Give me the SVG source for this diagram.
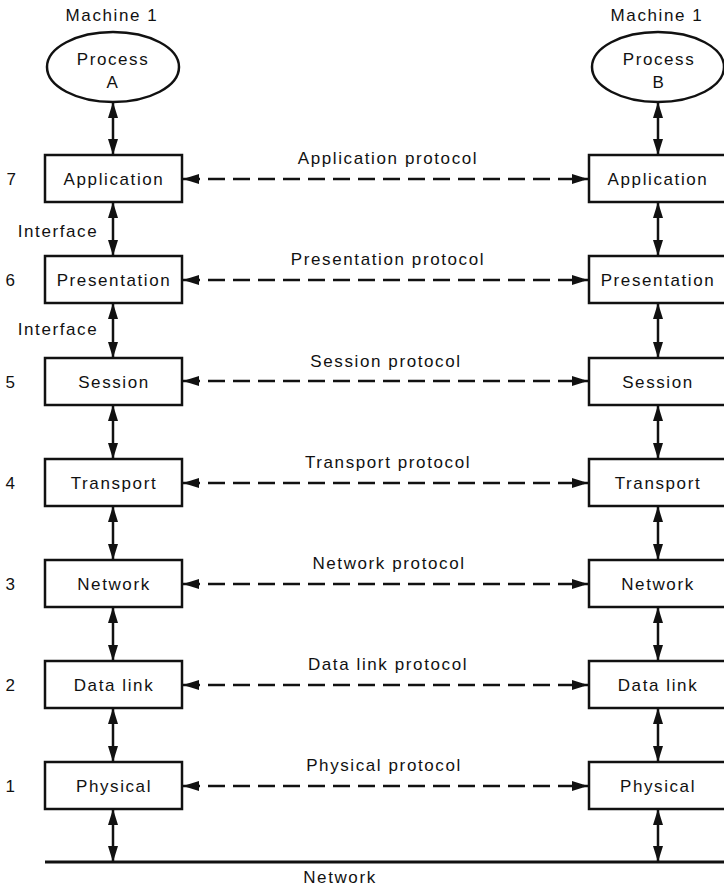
<svg xmlns="http://www.w3.org/2000/svg" width="724" height="892" viewBox="0 0 724 892">
<style>
text{font-family:"Liberation Sans",Arial,sans-serif;font-size:17px;letter-spacing:1.6px;fill:#111;text-anchor:middle}
.box{fill:#fff;stroke:#111;stroke-width:2.5}
.v{stroke:#111;stroke-width:2.5;fill:none;marker-start:url(#ah);marker-end:url(#ah)}
.h{stroke:#111;stroke-width:2.5;fill:none;stroke-dasharray:17 8;marker-start:url(#ah);marker-end:url(#ah)}
</style>
<defs>
<marker id="ah" viewBox="0 0 16 10" refX="16" refY="5" markerWidth="16" markerHeight="10" markerUnits="userSpaceOnUse" orient="auto-start-reverse">
<path d="M0,0 L16,5 L0,10 Z" fill="#111"/>
</marker>
</defs>
<rect width="724" height="892" fill="#fff"/>
<text x="112" y="21">Machine 1</text>
<text x="657" y="21">Machine 1</text>
<g id="processA"><ellipse cx="113" cy="67" rx="66" ry="35" class="box"/><text x="113" y="65">Process</text><text x="113" y="88">A</text></g>
<g id="processB"><ellipse cx="658" cy="67" rx="66" ry="35" class="box"/><text x="659" y="65">Process</text><text x="659" y="88">B</text></g>
<g id="layers-left">
<g id="app-l"><rect x="45" y="155" width="137" height="47" class="box"/><text x="114" y="185">Application</text></g>
<g id="pres-l"><rect x="45" y="256" width="137" height="47" class="box"/><text x="114" y="286">Presentation</text></g>
<g id="sess-l"><rect x="45" y="358" width="137" height="47" class="box"/><text x="114" y="388">Session</text></g>
<g id="trans-l"><rect x="45" y="459" width="137" height="47" class="box"/><text x="114" y="489">Transport</text></g>
<g id="net-l"><rect x="45" y="560" width="137" height="47" class="box"/><text x="114" y="590">Network</text></g>
<g id="dl-l"><rect x="45" y="661" width="137" height="47" class="box"/><text x="114" y="691">Data link</text></g>
<g id="phys-l"><rect x="45" y="762" width="137" height="47" class="box"/><text x="114" y="792">Physical</text></g>
</g>
<g id="layers-right">
<g id="app-r"><rect x="589" y="155" width="140" height="47" class="box"/><text x="658" y="185">Application</text></g>
<g id="pres-r"><rect x="589" y="256" width="140" height="47" class="box"/><text x="658" y="286">Presentation</text></g>
<g id="sess-r"><rect x="589" y="358" width="140" height="47" class="box"/><text x="658" y="388">Session</text></g>
<g id="trans-r"><rect x="589" y="459" width="140" height="47" class="box"/><text x="658" y="489">Transport</text></g>
<g id="net-r"><rect x="589" y="560" width="140" height="47" class="box"/><text x="658" y="590">Network</text></g>
<g id="dl-r"><rect x="589" y="661" width="140" height="47" class="box"/><text x="658" y="691">Data link</text></g>
<g id="phys-r"><rect x="589" y="762" width="140" height="47" class="box"/><text x="658" y="792">Physical</text></g>
</g>
<g id="layer-numbers">
<text x="12" y="185">7</text><text x="11" y="286">6</text><text x="11" y="388">5</text><text x="11" y="489">4</text><text x="11" y="590">3</text><text x="11" y="691">2</text><text x="11" y="792">1</text>
</g>
<g id="network"><line x1="45" y1="862" x2="724" y2="862" stroke="#111" stroke-width="3"/><text x="340" y="883">Network</text></g>
<text x="58" y="237">Interface</text>
<text x="58" y="335">Interface</text>
<g id="protocol-labels">
<text x="388" y="164">Application protocol</text>
<text x="388" y="265">Presentation protocol</text>
<text x="386" y="367">Session protocol</text>
<text x="388" y="468">Transport protocol</text>
<text x="389" y="569">Network protocol</text>
<text x="388" y="670">Data link protocol</text>
<text x="384" y="771">Physical protocol</text>
</g>
<g id="connectors">
<line class="v" x1="113" y1="102" x2="113" y2="155"/>
<line class="v" x1="113" y1="202" x2="113" y2="256"/>
<line class="v" x1="113" y1="303" x2="113" y2="358"/>
<line class="v" x1="113" y1="405" x2="113" y2="459"/>
<line class="v" x1="113" y1="506" x2="113" y2="560"/>
<line class="v" x1="113" y1="607" x2="113" y2="661"/>
<line class="v" x1="113" y1="708" x2="113" y2="762"/>
<line class="v" x1="113" y1="809" x2="113" y2="862"/>
<line class="v" x1="658" y1="102" x2="658" y2="155"/>
<line class="v" x1="658" y1="202" x2="658" y2="256"/>
<line class="v" x1="658" y1="303" x2="658" y2="358"/>
<line class="v" x1="658" y1="405" x2="658" y2="459"/>
<line class="v" x1="658" y1="506" x2="658" y2="560"/>
<line class="v" x1="658" y1="607" x2="658" y2="661"/>
<line class="v" x1="658" y1="708" x2="658" y2="762"/>
<line class="v" x1="658" y1="809" x2="658" y2="862"/>
<line class="h" x1="183" y1="179" x2="588" y2="179"/>
<line class="h" x1="183" y1="280" x2="588" y2="280"/>
<line class="h" x1="183" y1="381" x2="588" y2="381"/>
<line class="h" x1="183" y1="483" x2="588" y2="483"/>
<line class="h" x1="183" y1="584" x2="588" y2="584"/>
<line class="h" x1="183" y1="685" x2="588" y2="685"/>
<line class="h" x1="183" y1="786" x2="588" y2="786"/>
</g>
</svg>
